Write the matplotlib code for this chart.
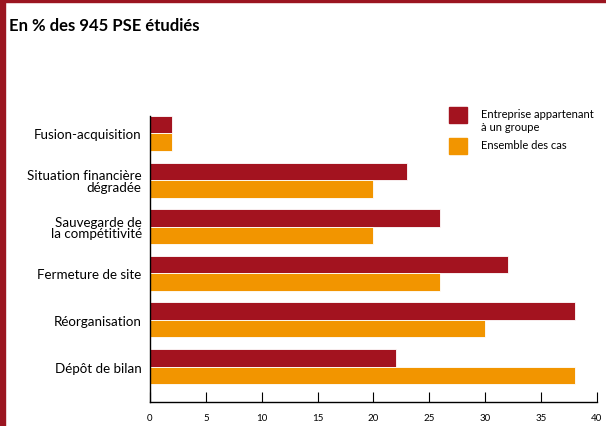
import numpy as np
import matplotlib.pyplot as plt
from matplotlib.patches import Rectangle

plt.rcParams['font.family'] = ['Lato', 'DejaVu Sans']

categories = ["Fusion-acquisition", "Situation financière\ndégradée",
              "Sauvegarde de\nla compétitivité", "Fermeture de site",
              "Réorganisation", "Dépôt de bilan"]
groupe = [2, 23, 26, 32, 38, 22]     # Entreprise appartenant à un groupe
ensemble = [2, 20, 20, 26, 30, 38]   # Ensemble des cas
xticks = [0, 5, 10, 15, 20, 25, 30, 35, 40]

red = "#a3131f"
orange = "#f29500"
border = "#9b1520"

fig = plt.figure(figsize=(6.06, 4.27), dpi=100)
ax = fig.add_axes([0.2475, 0.0562, 0.985 - 0.2475, 0.726 - 0.0562])

y = np.arange(len(categories))
h = 0.375
ax.barh(y - h / 2, groupe, height=h, color=red, edgecolor="white", linewidth=0.6)
ax.barh(y + h / 2, ensemble, height=h, color=orange, edgecolor="white", linewidth=0.6)

ax.set_xlim(0, 40)
ax.set_ylim(len(categories) - 1 + 0.76, -0.375)
ax.set_xticks(xticks)
ax.set_xticklabels([str(t) for t in xticks], fontsize=7)
ax.set_yticks(y)
ax.set_yticklabels(categories, fontsize=9.6, linespacing=0.95)
ax.tick_params(axis="y", length=0, pad=6)
ax.tick_params(axis="x", direction="in", length=7, width=0.8, pad=8)
for side in ["top", "right"]:
    ax.spines[side].set_visible(False)
ax.spines["left"].set_linewidth(1.0)
ax.spines["bottom"].set_linewidth(1.0)

# title
fig.text(9 / 606, 1 - 26 / 427, "En % des 945 PSE étudiés", fontsize=12,
         fontweight="bold", va="center", ha="left")

# legend
legend_items = [(red, "Entreprise appartenant\nà un groupe", 108),
                (orange, "Ensemble des cas", 139)]
for col, txt, top in legend_items:
    fig.patches.append(Rectangle((449 / 606, 1 - (top + 16) / 427), 18 / 606, 16 / 427,
                                 transform=fig.transFigure, color=col))
    fig.text(481 / 606, 1 - (top + 1) / 427, txt, fontsize=8, va="top", ha="left",
             linespacing=1.25)

# frame lines on top and left
fig.patches.append(Rectangle((0, 1 - 3 / 427), 1, 3 / 427, transform=fig.transFigure,
                             color=border))
fig.patches.append(Rectangle((0, 0), 5 / 606, 1, transform=fig.transFigure, color=border))

fig.savefig("out.png", dpi=100)
